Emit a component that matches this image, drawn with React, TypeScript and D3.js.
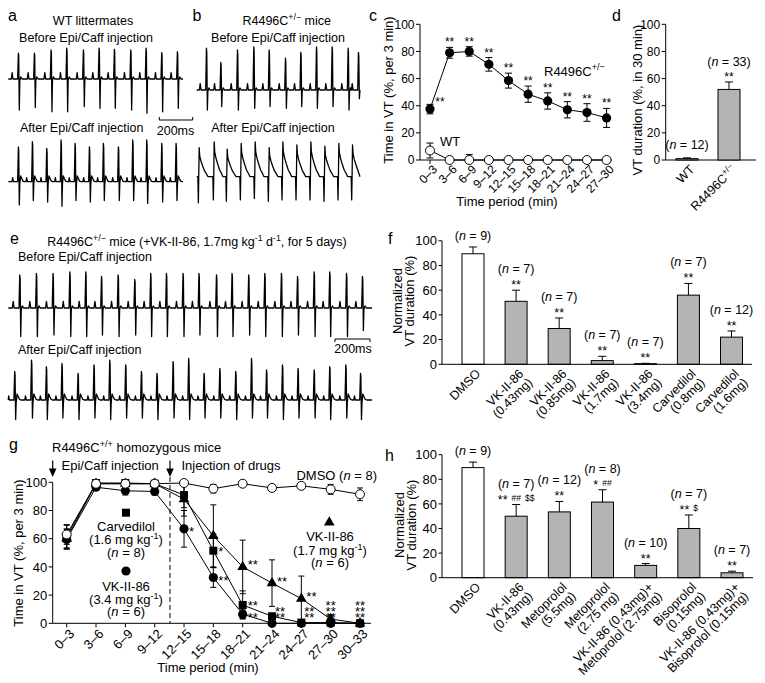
import React from 'react';
import * as d3 from 'd3';

const FONT = '"Liberation Sans", Arial, Helvetica, sans-serif';
const GRAY = '#b4b4b4';

// ---------------- Panel c ----------------
const cCats = ['0–3', '3–6', '6–9', '9–12', '12–15', '15–18', '18–21', '21–24', '24–27', '27–30'];
const cMutMean = [37.5, 79, 80, 70.5, 58.5, 48.5, 43.5, 37, 35, 31];
const cMutSem = [3.5, 4, 3.5, 5, 5.5, 6, 6, 6, 6.5, 7];
const cMutStars = ['**', '**', '**', '**', '**', '**', '**', '**', '**', '**'];
const cWtMean = [7, 0, 0, 0, 0, 0, 0, 0, 0, 0];
const cWtSem = [5.5, 0, 4, 0, 0, 0, 0, 0, 0, 0];
const pctTicks = [0, 20, 40, 60, 80, 100];

// ---------------- Panel d ----------------
const dCats = ['WT', 'R4496C'];
const dMean = [1, 52];
const dSem = [0.6, 5.5];
const dN = [12, 33];
const dStars = ['', '**'];

// ---------------- Panel f ----------------
const fCats = [['DMSO'], ['VK-II-86', '(0.43mg)'], ['VK-II-86', '(0.85mg)'], ['VK-II-86', '(1.7mg)'], ['VK-II-86', '(3.4mg)'], ['Carvedilol', '(0.8mg)'], ['Carvedilol', '(1.6mg)']];
const fMean = [89.5, 51, 29, 3, 0.5, 56, 22];
const fSem = [5.5, 9, 8.5, 3.5, 0.3, 9.5, 5];
const fN = [9, 7, 7, 7, 7, 7, 12];
const fStars = [[], ['**'], ['**'], ['**'], ['**'], ['**'], ['**']];
const fOpen = [true, false, false, false, false, false, false];

// ---------------- Panel g ----------------
const gCats = ['0–3', '3–6', '6–9', '9–12', '12–15', '15–18', '18–21', '21–24', '24–27', '27–30', '30–33'];
const gDmso = [63, 99, 99, 99, 99.5, 95.5, 99, 96, 97.5, 95, 91.5];
const gDmsoSem = [7, 1, 1, 1, 1, 3, 1, 2, 1, 3.5, 4.5];
const gCarv = [61.5, 99.5, 99.5, 99, 91, 51.5, 13, 5, 0.5, 0.5, 0];
const gCarvSem = [8, 1, 1, 1, 9, 12, 10, 2, 0.5, 0.5, 0];
const gCarvStars = ['', '', '', '', '', '*', '**', '', '', '', ''];
const gVk17 = [60, 99, 99, 99, 88, 62, 40, 28.5, 17.5, 3, 0];
const gVk17Sem = [7, 1, 1, 1, 12, 22, 19, 16.5, 16, 3, 0];
const gVk17Stars = ['', '', '', '', '', '', '**', '**', '**', '', ''];
const gVk34 = [59.5, 96.5, 94, 93.5, 67, 32.5, 6.5, 0, 0, 0, 0];
const gVk34Sem = [7, 1, 3, 2.5, 13, 7, 3, 0, 0, 0, 0];
const gVk34Stars = ['', '', '', '', '*', '**', '**', '', '', '', ''];
const gStackRows = [0, 0, 0, 0, 0, 0, 0, 2, 2, 3, 3];

// ---------------- Panel h ----------------
const hCats = [['DMSO'], ['VK-II-86', '(0.43mg)'], ['Metoprolol', '(5.5mg)'], ['Metoprolol', '(2.75 mg)'], ['VK-II-86 (0.43mg)+', 'Metoprolol (2.75mg)'], ['Bisoprolol', '(0.15mg)'], ['VK-II-86 (0.43mg)+', 'Bisoprolol (0.15mg)']];
const hMean = [89.5, 50, 53.5, 61.5, 10, 40, 4];
const hSem = [4.5, 9.5, 8.5, 10, 1.5, 11, 1.3];
const hN = [9, 7, 12, 8, 10, 7, 7];
const hStars = [[], ['**', '##', '$$'], ['**'], ['*', '##'], ['**'], ['**', '$'], ['**']];
const hOpen = [true, false, false, false, false, false, false];

// ---------------- ECG traces (beat times in ms, R / S amplitudes) ----------------
const aBeforeT = [62, 158, 258, 352, 452, 546, 638, 736, 828, 922, 1016];
const aBeforeR = [0.89, 0.89, 1.0, 1.06, 1.0, 1.06, 1.02, 1.0, 1.06, 0.91, 0.94];
const aBeforeS = [1.07, 0.98, 1.13, 1.13, 0.95, 1.01, 1.01, 1.07, 1.18, 1.13, 1.01];
const aAfterT = [62, 146, 232, 318, 402, 488, 572, 662, 748, 832, 922, 1008];
const aAfterR = [1.2, 1.38, 1.15, 1.44, 1.32, 1.2, 1.32, 1.2, 1.44, 1.44, 1.32, 1.32];
const aAfterS = [0.8, 0.65, 0.7, 0.85, 0.65, 0.7, 0.65, 0.65, 0.65, 0.75, 0.7, 0.65];
const bBeforeT = [60, 146, 246, 344, 436, 534, 626, 720, 814, 910, 972];
const bBeforeR = [1.44, 0.95, 1.38, 1.49, 1.38, 1.1, 1.3, 1.49, 1.49, 1.44, 1.3];
const bBeforeS = [0.69, 0.57, 0.69, 0.63, 0.57, 0.63, 0.57, 0.63, 0.57, 0.69, 0.3];
const bAfterT = [10, 100, 178, 262, 346, 430, 512, 596, 680, 764, 848, 930];
const bAfterR = [1.0, 1.2, 0.95, 1.15, 1.2, 1.0, 1.2, 1.1, 1.2, 1.05, 1.15, 1.1];
const bAfterS = [0.9, 0.8, 0.85, 0.8, 0.75, 0.85, 0.8, 0.8, 0.8, 0.85, 0.8, 0.8];
const eBeforeT = [67, 162, 257, 353, 444, 534, 629, 724, 815, 905, 1000, 1091, 1191, 1280, 1375, 1467, 1562, 1654, 1749, 1838, 1934, 2025];
const eBeforeR = [1.1, 1.15, 1.15, 1.2, 1.2, 1.05, 1.1, 0.95, 1.15, 1.15, 1.15, 1.15, 1.1, 1.15, 1.1, 1.15, 1.15, 1.05, 1.2, 1.2, 1.15, 1.05];
const eBeforeS = [0.95, 0.95, 0.9, 0.95, 0.95, 0.9, 0.95, 0.9, 0.95, 0.95, 0.95, 0.9, 0.95, 0.95, 0.9, 0.95, 0.95, 0.9, 0.95, 0.95, 0.95, 0.75];
const eAfterT = [38, 134, 219, 308, 400, 491, 581, 672, 762, 851, 943, 1032, 1120, 1210, 1301, 1391, 1477, 1568, 1657, 1749, 1838, 1930, 2014];
const eAfterR = [0.95, 1.33, 1.11, 1.22, 0.89, 1.17, 1.33, 1.17, 0.95, 0.89, 1.28, 1.39, 0.89, 1.05, 0.95, 1.39, 1.0, 1.17, 1.05, 1.0, 1.11, 1.17, 0.89];
const eAfterS = [0.65, 0.6, 0.65, 0.6, 0.65, 0.6, 0.65, 0.6, 0.6, 0.65, 0.6, 0.65, 0.6, 0.6, 0.65, 0.6, 0.6, 0.65, 0.6, 0.6, 0.65, 0.6, 0.65];

// beat shapes: [dt ms, value, kind] kind 0 absolute, 1 x R, 2 x S
const BEAT_NORMAL = [[-44, 0, 0], [-39, 0.22, 0], [-34, 0, 0], [-6, 0, 0], [-1.5, 1, 1], [0.5, 0.9, 1], [4, -1, 2], [7, -0.05, 0], [13, 0.07, 0], [21, 0, 0]];
const BEAT_POST = [[-40, 0, 0], [-36, 0.14, 0], [-31, 0, 0], [-6, 0, 0], [-1.5, 1, 1], [0.5, 0.9, 1], [4, -1, 2], [7, -0.08, 0], [12, 0.2, 0], [18, 0.12, 0], [26, 0.02, 0], [34, 0, 0]];
const BEAT_VT = [[-3, 0, 0], [0, -1, 2], [2.5, 0.1, 0], [5, 1, 1], [8, 0.72, 1], [15, 0.55, 1], [25, 0.38, 1], [37, 0.2, 1], [50, 0.08, 1], [58, 0, 0]];

function ecgPoints(times: number[], rs: number[], ss: number[], tpl: number[][], dur: number) {
  const pts: [number, number][] = [[0, 0]];
  times.forEach((t0, i) => {
    tpl.forEach(([dt, v, kind]) => {
      const t = t0 + dt;
      if (t <= 0 || t >= dur) return;
      const val = kind === 1 ? v * rs[i] : kind === 2 ? v * ss[i] : v;
      pts.push([t, val]);
    });
  });
  pts.push([dur, 0]);
  return pts;
}

function Trace(p: { times: number[]; rs: number[]; ss: number[]; tpl: number[][]; x0: number; x1: number; msPerPx: number; base: number; unit: number }) {
  const dur = (p.x1 - p.x0) * p.msPerPx;
  const pts = ecgPoints(p.times, p.rs, p.ss, p.tpl, dur);
  const xs = d3.scaleLinear().domain([0, dur]).range([p.x0, p.x1]);
  const ys = d3.scaleLinear().domain([0, 1]).range([p.base, p.base - p.unit]);
  const line = d3.line<[number, number]>().x((d) => xs(d[0])).y((d) => ys(d[1]));
  return <path d={line(pts) || ''} fill="none" stroke="#000" strokeWidth={1.3} strokeLinejoin="round" />;
}

function YAxis({ x, scale, fs, len = 4 }: { x: number; scale: d3.ScaleLinear<number, number>; fs: number; len?: number }) {
  return (
    <g>
      <line x1={x} x2={x} y1={scale(0)} y2={scale(100)} stroke="#000" strokeWidth={1} />
      {pctTicks.map((t) => (
        <g key={t}>
          <line x1={x - len} x2={x} y1={scale(t)} y2={scale(t)} stroke="#000" strokeWidth={1} />
          <text x={x - len - 1.5} y={scale(t)} dy="0.36em" textAnchor="end" fontSize={fs}>{t}</text>
        </g>
      ))}
    </g>
  );
}

function RotLabel({ x, y, lines, fs, lh = 1.0 }: { x: number; y: number; lines: React.ReactNode[]; fs: number; lh?: number }) {
  return (
    <g transform={`translate(${x},${y}) rotate(-45)`}>
      {lines.map((l, k) => (
        <text key={k} x={0} y={0} dy={`${0.36 + k * lh}em`} textAnchor="end" fontSize={fs}>{l}</text>
      ))}
    </g>
  );
}

function NLabel({ x, y, n, fs }: { x: number; y: number; n: number; fs: number }) {
  return (
    <text x={x} y={y} textAnchor="middle" fontSize={fs}>
      (<tspan fontStyle="italic">n</tspan> = {n})
    </text>
  );
}

function Stars({ x, y, tokens, fs }: { x: number; y: number; tokens: string[]; fs: number }) {
  return (
    <text x={x} y={y} textAnchor="middle" fontSize={fs}>
      {tokens.map((tk, j) => {
        const small = !tk.includes('*');
        const prevSmall = j > 0 && !tokens[j - 1].includes('*');
        let dy = 0;
        if (small && !prevSmall) dy = -3;
        if (!small && prevSmall) dy = 3;
        return (
          <tspan key={j} dx={j ? 4 : 0} dy={dy} fontSize={small ? fs * 0.68 : fs}>{tk}</tspan>
        );
      })}
    </text>
  );
}

function BarPanel(p: {
  cats: string[][]; mean: number[]; sem: number[]; n: number[]; stars: string[][]; open: boolean[];
  x0: number; x1: number; axisX: number; axisEnd: number; yScale: d3.ScaleLinear<number, number>;
}) {
  const xs = d3.scalePoint<number>().domain(d3.range(p.cats.length)).range([p.x0, p.x1]);
  const bw = 22;
  const base = p.yScale(0);
  return (
    <g>
      {p.mean.map((m, i) => {
        const x = xs(i)!;
        const top = p.yScale(m);
        const et = p.yScale(m + p.sem[i]);
        const hasStar = p.stars[i].length > 0;
        return (
          <g key={i}>
            <line x1={x} x2={x} y1={top} y2={et} stroke="#000" strokeWidth={1} />
            <line x1={x - 4} x2={x + 4} y1={et} y2={et} stroke="#000" strokeWidth={1} />
            <rect x={x - bw / 2} y={top} width={bw} height={base - top} fill={p.open[i] ? '#fff' : GRAY} stroke="#000" strokeWidth={1} />
            <NLabel x={x} y={hasStar ? et - 17 : et - 7} n={p.n[i]} fs={12.5} />
            {hasStar && <Stars x={x} y={et - 1} tokens={p.stars[i]} fs={12.5} />}
            <RotLabel x={x + 5} y={base + 7} lines={p.cats[i]} fs={12.5} />
          </g>
        );
      })}
      <line x1={p.axisX} x2={p.axisEnd} y1={base} y2={base} stroke="#000" strokeWidth={1} />
    </g>
  );
}

const Sup = ({ children, fs }: { children: React.ReactNode; fs: number }) => (
  <tspan dy={-fs * 0.4} fontSize={fs * 0.7}>{children}</tspan>
);

export default function App() {
  // ---- c ----
  const cX = d3.scalePoint<string>().domain(cCats).range([430, 606.6]);
  const cY = d3.scaleLinear().domain([0, 100]).range([160, 24.3]);
  const cLine = d3.line<number>().x((_, i) => cX(cCats[i])!).y((d) => cY(d));

  // ---- d ----
  const dX = d3.scalePoint<string>().domain(dCats).range([687, 729]);
  const dY = cY;

  // ---- f / h ----
  const fY = d3.scaleLinear().domain([0, 100]).range([364.3, 240.8]);
  const hY = d3.scaleLinear().domain([0, 100]).range([577.7, 454.7]);

  // ---- g ----
  const gX = d3.scalePoint<string>().domain(gCats).range([66.7, 360]);
  const gY = d3.scaleLinear().domain([0, 100]).range([623.3, 482.3]);
  const gLine = d3.line<number>().x((_, i) => gX(gCats[i])!).y((d) => gY(d));
  const sq = d3.symbol().type(d3.symbolSquare).size(64)() || '';
  const tri = d3.symbol().type(d3.symbolTriangle).size(50)() || '';
  const gSeries = [
    { mean: gCarv, sem: gCarvSem, stars: gCarvStars, kind: 'sq' },
    { mean: gVk17, sem: gVk17Sem, stars: gVk17Stars, kind: 'tri' },
    { mean: gVk34, sem: gVk34Sem, stars: gVk34Stars, kind: 'dot' },
  ];
  const marker = (kind: string, x: number, y: number, key?: any) => {
    if (kind === 'sq') return <path key={key} d={sq} transform={`translate(${x},${y})`} fill="#000" />;
    if (kind === 'tri') return <path key={key} d={tri} transform={`translate(${x},${y})`} fill="#000" />;
    if (kind === 'open') return <circle key={key} cx={x} cy={y} r={4.5} fill="#fff" stroke="#000" strokeWidth={1} />;
    return <circle key={key} cx={x} cy={y} r={4.6} fill="#000" />;
  };
  const errBar = (x: number, m: number, s: number, ys: d3.ScaleLinear<number, number>, key: any, cap = 3) => {
    if (!s) return null;
    const a = ys(m + s), b = ys(Math.max(0, m - s));
    return (
      <g key={key}>
        <line x1={x} x2={x} y1={a} y2={b} stroke="#000" strokeWidth={1} />
        <line x1={x - cap} x2={x + cap} y1={a} y2={a} stroke="#000" strokeWidth={1} />
        <line x1={x - cap} x2={x + cap} y1={b} y2={b} stroke="#000" strokeWidth={1} />
      </g>
    );
  };

  return (
    <svg width={765} height={683} viewBox="0 0 765 683" style={{ position: 'absolute', left: 0, top: 0 }} fontFamily={FONT}>
      <rect width={765} height={683} fill="#fff" />

      {/* panel letters */}
      <g fontSize={16}>
        <text x={8} y={20.7}>a</text>
        <text x={192.5} y={20.7}>b</text>
        <text x={369} y={20.5}>c</text>
        <text x={612} y={20.5}>d</text>
        <text x={10} y={244}>e</text>
        <text x={388} y={244}>f</text>
        <text x={9} y={449.5}>g</text>
        <text x={385} y={460.5}>h</text>
      </g>

      {/* ---------- a ---------- */}
      <g fontSize={12.5}>
        <text x={93} y={25} textAnchor="middle">WT littermates</text>
        <text x={86} y={41.7} textAnchor="middle">Before Epi/Caff injection</text>
        <text x={81.7} y={132} textAnchor="middle">After Epi/Caff injection</text>
        <text x={175.5} y={135} textAnchor="middle">200ms</text>
      </g>
      <path d="M159.3,117 V120 H192.7 V117" fill="none" stroke="#000" strokeWidth={1} />
      <Trace times={aBeforeT} rs={aBeforeR} ss={aBeforeS} tpl={BEAT_NORMAL} x0={8.3} x1={183} msPerPx={6} base={79} unit={29} />
      <Trace times={aAfterT} rs={aAfterR} ss={aAfterS} tpl={BEAT_POST} x0={8.3} x1={183} msPerPx={6} base={181.7} unit={29} />

      {/* ---------- b ---------- */}
      <g fontSize={12.5}>
        <text x={286.7} y={25} textAnchor="middle">R4496C<Sup fs={12.5}>+/−</Sup><tspan dy={5}> mice</tspan></text>
        <text x={278} y={41.7} textAnchor="middle">Before Epi/Caff injection</text>
        <text x={273} y={132} textAnchor="middle">After Epi/Caff injection</text>
      </g>
      <Trace times={bBeforeT} rs={bBeforeR} ss={bBeforeS} tpl={BEAT_NORMAL} x0={196.7} x1={360} msPerPx={6} base={90} unit={29} />
      <Trace times={bAfterT} rs={bAfterR} ss={bAfterS} tpl={BEAT_VT} x0={196.7} x1={360} msPerPx={6} base={176.7} unit={29} />

      {/* ---------- c ---------- */}
      <YAxis x={420} scale={cY} fs={12} />
      <line x1={420} x2={612} y1={cY(0)} y2={cY(0)} stroke="#000" />
      {cCats.map((c) => (
        <g key={c}>
          <line x1={cX(c)!} x2={cX(c)!} y1={cY(0)} y2={cY(0) + 4} stroke="#000" />
          <RotLabel x={cX(c)! + 5} y={cY(0) + 7} lines={[c]} fs={12} />
        </g>
      ))}
      <path d={cLine(cMutMean) || ''} fill="none" stroke="#000" strokeWidth={1} />
      <path d={cLine(cWtMean) || ''} fill="none" stroke="#000" strokeWidth={1} />
      {cCats.map((c, i) => errBar(cX(c)!, cMutMean[i], cMutSem[i], cY, 'me' + i, 3.5))}
      {cCats.map((c, i) => errBar(cX(c)!, cWtMean[i], cWtSem[i], cY, 'we' + i, 3.5))}
      {cCats.map((c, i) => marker('dot', cX(c)!, cY(cMutMean[i]), 'mm' + i))}
      {cCats.map((c, i) => marker('open', cX(c)!, cY(cWtMean[i]), 'wm' + i))}
      {cCats.map((c, i) => {
        const et = cY(cMutMean[i] + cMutSem[i]);
        return i === 0
          ? <Stars key={'cs' + i} x={cX(c)! + 10} y={et + 2} tokens={[cMutStars[i]]} fs={12} />
          : <Stars key={'cs' + i} x={cX(c)!} y={et - 1} tokens={[cMutStars[i]]} fs={12} />;
      })}
      <text x={544} y={75.5} fontSize={13}>R4496C<Sup fs={13}>+/−</Sup></text>
      <text x={440} y={146.3} fontSize={13}>WT</text>
      <text x={507} y={206} textAnchor="middle" fontSize={13}>Time period (min)</text>
      <text transform="translate(393,90) rotate(-90)" textAnchor="middle" fontSize={13}>Time in VT (%, per 3 min)</text>

      {/* ---------- d ---------- */}
      <YAxis x={665.7} scale={dY} fs={12} />
      <line x1={665.7} x2={756} y1={dY(0)} y2={dY(0)} stroke="#000" />
      {dCats.map((c, i) => {
        const x = dX(c)!;
        const top = dY(dMean[i]);
        const et = dY(dMean[i] + dSem[i]);
        const hasStar = dStars[i] !== '';
        return (
          <g key={c}>
            <line x1={x} x2={x} y1={top} y2={et} stroke="#000" />
            <line x1={x - 4} x2={x + 4} y1={et} y2={et} stroke="#000" />
            <rect x={x - 11} y={top} width={22} height={dY(0) - top} fill={GRAY} stroke="#000" />
            <NLabel x={x} y={hasStar ? et - 15.5 : et - 9} n={dN[i]} fs={12.5} />
            {hasStar && <Stars x={x} y={et - 1} tokens={[dStars[i]]} fs={12} />}
            <RotLabel x={x + 5} y={dY(0) + 7} lines={[i === 0 ? c : <>{c}<Sup fs={12.5}>+/−</Sup></>]} fs={12.5} />
          </g>
        );
      })}
      <text transform="translate(642,100) rotate(-90)" textAnchor="middle" fontSize={13}>VT duration (%, in 30 min)</text>

      {/* ---------- e ---------- */}
      <g fontSize={12.5}>
        <text x={197} y={245.5} textAnchor="middle">R4496C<Sup fs={12.5}>+/−</Sup><tspan dy={5}> mice (+VK-II-86, 1.7mg kg</tspan><Sup fs={12.5}>-1</Sup><tspan dy={5}> d</tspan><Sup fs={12.5}>-1</Sup><tspan dy={5}>, for 5 days)</tspan></text>
        <text x={18} y={260.5}>Before Epi/Caff injection</text>
        <text x={18} y={353.5}>After Epi/Caff injection</text>
        <text x={353} y={352.5} textAnchor="middle">200ms</text>
      </g>
      <path d="M335,342 V339 H370 V342" fill="none" stroke="#000" strokeWidth={1} />
      <Trace times={eBeforeT} rs={eBeforeR} ss={eBeforeS} tpl={BEAT_NORMAL} x0={8.3} x1={372} msPerPx={5.714} base={308} unit={30} />
      <Trace times={eAfterT} rs={eAfterR} ss={eAfterS} tpl={BEAT_POST} x0={8.3} x1={372} msPerPx={5.714} base={400} unit={30} />

      {/* ---------- f ---------- */}
      <YAxis x={442} scale={fY} fs={13} len={3.5} />
      <BarPanel cats={fCats} mean={fMean} sem={fSem} n={fN} stars={fStars} open={fOpen} x0={473} x1={731.5} axisX={442} axisEnd={752} yScale={fY} />
      <text transform="translate(402,301) rotate(-90)" textAnchor="middle" fontSize={13}>Normalized</text>
      <text transform="translate(414,301) rotate(-90)" textAnchor="middle" fontSize={13}>VT duration (%)</text>

      {/* ---------- g ---------- */}
      <YAxis x={52.7} scale={gY} fs={13} />
      <line x1={52.7} x2={371} y1={gY(0)} y2={gY(0)} stroke="#000" />
      {gCats.map((c) => (
        <g key={c}>
          <line x1={gX(c)!} x2={gX(c)!} y1={gY(0)} y2={gY(0) + 4} stroke="#000" />
          <RotLabel x={gX(c)! + 5} y={gY(0) + 8} lines={[c]} fs={13} />
        </g>
      ))}
      <line x1={170} x2={170} y1={477} y2={gY(0)} stroke="#000" strokeDasharray="5,3" />
      <g fontSize={13}>
        <text x={52} y={451.8}>R4496C<Sup fs={13}>+/+</Sup><tspan dy={5.2}> homozygous mice</tspan></text>
        <text x={61.5} y={469.5}>Epi/Caff injection</text>
        <text x={181.5} y={469.5}>Injection of drugs</text>
        <text x={377} y={479.5} textAnchor="end">DMSO (<tspan fontStyle="italic">n</tspan> = 8)</text>
      </g>
      {[52.7, 170].map((ax) => (
        <g key={ax}>
          <line x1={ax} x2={ax} y1={460.5} y2={470} stroke="#000" strokeWidth={1.2} />
          <path d={`M${ax - 3.8},468.5 L${ax + 3.8},468.5 L${ax},477 Z`} fill="#000" />
        </g>
      ))}
      <path d={gLine(gDmso) || ''} fill="none" stroke="#000" />
      {gSeries.map((s, k) => <path key={'gl' + k} d={gLine(s.mean) || ''} fill="none" stroke="#000" />)}
      {gCats.map((c, i) => errBar(gX(c)!, gDmso[i], gDmsoSem[i], gY, 'gde' + i))}
      {gSeries.map((s, k) => gCats.map((c, i) => errBar(gX(c)!, s.mean[i], s.sem[i], gY, 'ge' + k + '_' + i)))}
      {gSeries.map((s, k) => gCats.map((c, i) => marker(s.kind, gX(c)!, gY(s.mean[i]), 'gm' + k + '_' + i)))}
      {gCats.map((c, i) => marker('open', gX(c)!, gY(gDmso[i]), 'gdm' + i))}
      {gSeries.map((s, k) => gCats.map((c, i) => s.stars[i] ? (
        <text key={'gs' + k + '_' + i} x={gX(c)! + 5} y={gY(s.mean[i]) + (s.kind === 'tri' ? -5 : s.kind === 'sq' ? -2 : 0) + 7.5} fontSize={13}>{s.stars[i]}</text>
      ) : null))}
      {gCats.map((c, i) => gStackRows[i] > 0 ? (
        <text key={'gk' + i} textAnchor="middle" fontSize={13}>
          {d3.range(gStackRows[i]).map((r) => (
            <tspan key={r} x={gX(c)! + (gStackRows[i] === 2 ? 8 : 0)} y={gY(0) - 9 - r * 5.8 + 7.5}>**</tspan>
          ))}
        </text>
      ) : null)}
      {/* g legend */}
      {marker('sq', 126, 512.7)}
      {marker('dot', 126, 571)}
      {marker('tri', 329.3, 522.5)}
      <g fontSize={13} textAnchor="middle">
        <text x={126} y={531.3}>Carvedilol</text>
        <text x={126} y={544}>(1.6 mg kg<Sup fs={13}>-1</Sup><tspan dy={5.2}>)</tspan></text>
        <text x={126} y={557}>(<tspan fontStyle="italic">n</tspan> = 8)</text>
        <text x={126} y={591.3}>VK-II-86</text>
        <text x={126} y={604}>(3.4 mg kg<Sup fs={13}>-1</Sup><tspan dy={5.2}>)</tspan></text>
        <text x={126} y={616.3}>(<tspan fontStyle="italic">n</tspan> = 6)</text>
        <text x={330} y={541.3}>VK-II-86</text>
        <text x={330} y={554.7}>(1.7 mg kg<Sup fs={13}>-1</Sup><tspan dy={5.2}>)</tspan></text>
        <text x={330} y={567.3}>(<tspan fontStyle="italic">n</tspan> = 6)</text>
      </g>
      <text x={208} y={672} textAnchor="middle" fontSize={13}>Time period (min)</text>
      <text transform="translate(23,553) rotate(-90)" textAnchor="middle" fontSize={13}>Time in VT (%, per 3 min)</text>

      {/* ---------- h ---------- */}
      <YAxis x={442} scale={hY} fs={13} len={3.5} />
      <BarPanel cats={hCats} mean={hMean} sem={hSem} n={hN} stars={hStars} open={hOpen} x0={473} x1={732} axisX={442} axisEnd={753} yScale={hY} />
      <text transform="translate(404,525) rotate(-90)" textAnchor="middle" fontSize={13}>Normalized</text>
      <text transform="translate(416,525) rotate(-90)" textAnchor="middle" fontSize={13}>VT duration (%)</text>
    </svg>
  );
}
